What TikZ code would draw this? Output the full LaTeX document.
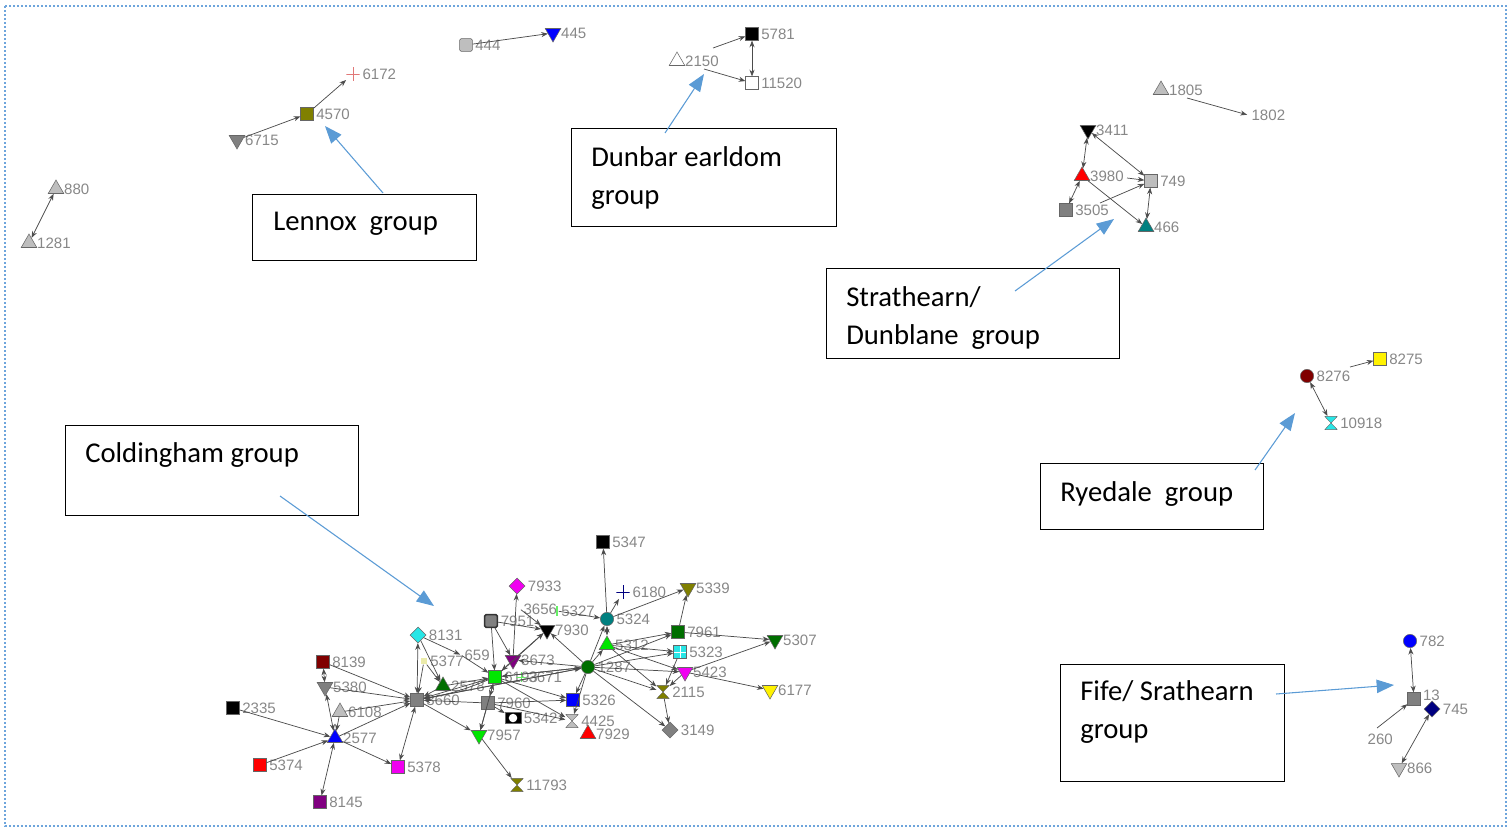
\documentclass[tikz,border=0pt]{standalone}
\usepackage{fontspec}
\usetikzlibrary{shapes.geometric,arrows.meta}
\newfontfamily\labfont{Liberation Sans}
\newfontfamily\callfont{Carlito}
\definecolor{labgrey}{RGB}{135,135,135}
\definecolor{lgrey}{RGB}{190,190,190}
\definecolor{mgrey}{RGB}{128,128,128}
\definecolor{olivec}{RGB}{128,128,0}
\definecolor{tealc}{RGB}{0,128,128}
\definecolor{dred}{RGB}{128,0,0}
\definecolor{navyc}{RGB}{0,0,128}
\definecolor{purp}{RGB}{128,0,128}
\definecolor{dgreen}{RGB}{0,110,0}
\definecolor{lgreen}{RGB}{0,230,0}
\definecolor{cyanc}{RGB}{40,230,230}
\definecolor{magc}{RGB}{240,0,240}
\definecolor{callblue}{RGB}{91,155,213}
\definecolor{dotblue}{RGB}{110,165,220}
\definecolor{pinkred}{RGB}{225,120,120}
\definecolor{paleyel}{RGB}{235,235,170}
\tikzset{
  mk/.style={inner sep=0pt, draw=black!60, line width=0.4pt},
  sq/.style={mk, rectangle, minimum size=9.5pt, fill=#1},
  tu/.style={mk, regular polygon, regular polygon sides=3, minimum size=13.5pt, fill=#1},
  td/.style={tu=#1, shape border rotate=180},
  dm/.style={mk, diamond, minimum size=12pt, fill=#1},
  ci/.style={mk, circle, minimum size=10pt, fill=#1},
  hg/.style={inner sep=0pt, rectangle, minimum width=9.5pt, minimum height=10pt,
    path picture={\fill[#1, draw=black!60, line width=0.3pt]
      (path picture bounding box.north west) -- (path picture bounding box.north east)
      -- (path picture bounding box.south west) -- (path picture bounding box.south east) -- cycle;}},
  pl/.style={inner sep=0pt, rectangle, minimum size=10pt,
    path picture={\draw[#1, line width=0.7pt]
      (path picture bounding box.north) -- (path picture bounding box.south)
      (path picture bounding box.west) -- (path picture bounding box.east);}},
  inv/.style={inner sep=0pt, minimum size=1pt},
  lab/.style={text=labgrey, font=\labfont\fontsize{11.3}{12}\selectfont, inner sep=0.6pt},
  L/.style={label={[lab, label distance=1.2pt]0:#1}},
  ed/.style={draw=black!70, line width=0.55pt, -{Stealth[length=5pt,width=3.8pt]}},
  bi/.style={draw=black!70, line width=0.55pt, {Stealth[length=5pt,width=3.8pt]}-{Stealth[length=5pt,width=3.8pt]}},
  callbox/.style={draw=black, line width=0.9pt, inner sep=0pt, anchor=north west},
  calltext/.style={font=\callfont\fontsize{21.5}{28.5}\selectfont, align=left, anchor=north west, inner sep=0pt},
  callarrow/.style={draw=callblue, line width=0.8pt, -{Triangle[length=13pt,width=10pt]}}
}
\begin{document}
\begin{tikzpicture}[x=0.75pt, y=-0.75pt]
\useasboundingbox (0,0) rectangle (1508,829);
\draw[dotblue, line width=1.2pt, dash pattern=on 1.4pt off 1.6pt] (5,6) rectangle (1506,826);

% ---------- top-left pair
\node[tu=lgrey, L=880] (n880) at (56,189) {};
\node[tu=lgrey, L=1281] (n1281) at (29,243) {};
\draw[bi] (n880) -- (n1281);

% ---------- Lennox
\node[pl=pinkred, L=6172] (n6172) at (353,74) {};
\node[sq=olivec, L=4570] (n4570) at (307,114) {};
\node[td=mgrey, L=6715] (n6715) at (237,140) {};
\draw[ed] (n6715) -- (n4570);
\draw[ed] (n4570) -- (n6172);

% ---------- 444/445
\node[sq=lgrey, rounded corners=1pt, L=444] (n444) at (466,45) {};
\node[td=blue, L=445] (n445) at (553,33) {};
\draw[ed] (n444) -- (n445);

% ---------- Dunbar
\node[tu=white, L=2150] (n2150) at (677,61) {};
\node[sq=black, L=5781] (n5781) at (752,34) {};
\node[sq=white, L=11520] (n11520) at (752,83) {};
\coordinate (d1) at (713,48);
\coordinate (d2) at (704,69);
\draw[ed] (d1) -- (n5781);
\draw[ed] (d2) -- (n11520);
\draw[bi] (n5781) -- (n11520);

% ---------- 1805/1802
\node[tu=lgrey, L=1805] (n1805) at (1161,90) {};
\node[inv, L=1802] (n1802) at (1248,115) {};
\coordinate (e1805) at (1187,98);
\draw[ed] (e1805) -- (n1802);

% ---------- Strathearn
\node[td=black, L=3411] (n3411) at (1088,130) {};
\node[tu=red, L=3980] (n3980) at (1082,176) {};
\node[sq=lgrey, L=749] (n749) at (1151,181) {};
\node[sq=mgrey, L=3505] (n3505) at (1066,210) {};
\node[tu=tealc, L=466] (n466) at (1146,227) {};
\draw[bi] (n3411) -- (n3980);
\draw[bi] (n3411) -- (n749);
\coordinate (e3980) at (1127,178);
\draw[ed] (e3980) -- (n749);
\draw[bi] (n3980) -- (n3505);
\draw[ed] (n3980) -- (n466);
\coordinate (e3505) at (1100,203);
\draw[ed] (e3505) -- (n749);
\draw[bi] (n749) -- (n466);

% ---------- Ryedale
\node[ci=dred, L=8276] (n8276) at (1307,376) {};
\node[sq=yellow, L=8275] (n8275) at (1380,359) {};
\node[hg=cyanc, L=10918] (n10918) at (1331,423) {};
\coordinate (e8276) at (1350,367);
\draw[ed] (e8276) -- (n8275);
\draw[bi] (n8276) -- (n10918);

% ---------- Fife
\node[ci=blue, L=782] (n782) at (1410,641) {};
\node[sq=mgrey] (n13) at (1414,699) {};
\node[lab, anchor=west] (l13) at (1422,695) {13};
\node[dm=navyc, L=745] (n745) at (1432,709) {};
\node[td=lgrey, L=866] (n866) at (1399,768) {};
\node[inv, L=260] (n260) at (1364,739) {};
\draw[bi] (n782) -- (n13);
\coordinate (e260) at (1377,728);
\draw[ed] (e260) -- (n13);
\draw[bi] (n745) -- (n866);

% ---------- Coldingham
\node[dm=cyanc, L=8131] (n8131) at (418,635) {};
\node[sq=dred, L=8139] (n8139) at (323,662) {};
\node[td=mgrey, L=5380] (n5380) at (325,687) {};
\node[tu=lgrey, L=6108] (n6108) at (340,712) {};
\node[sq=black, L=2335] (n2335) at (233,708) {};
\node[tu=blue, L=2577] (n2577) at (335,738) {};
\node[sq=red, L=5374] (n5374) at (260,765) {};
\node[sq=purp, L=8145] (n8145) at (320,802) {};
\node[sq=magc, L=5378] (n5378) at (398,767) {};
\node[sq=mgrey, L=3660] (n3660) at (417,700) {};
\node[inv, minimum size=5pt, fill=paleyel, L=5377] (n5377) at (424,661) {};
\node[inv, L=659] (n659) at (461,655) {};
\node[tu=dgreen, L=2578] (n2578) at (443,686) {};
\node[sq=mgrey, line width=1.2pt, draw=black!80, rounded corners=1pt, L=7951] (n7951) at (491,621) {};
\node[dm=magc, L=7933] (n7933) at (517,586) {};
\node[inv, L=3656] (n3656) at (520,609) {};
\node[inv, minimum width=2pt, minimum height=8pt, fill=lgreen!60, L=5327] (n5327) at (557,611) {};
\node[td=purp, L=3673] (n3673) at (513,660) {};
\node[sq=lgreen, L=6193] (n6193) at (495,677) {};
\node[pl=lgreen!60, minimum size=7pt, L=3671] (n3671) at (521,677) {};
\node[td=black, L=7930] (n7930) at (547,630) {};
\node[ci=tealc, L=5324] (n5324) at (607,619) {};
\node[pl=navyc, L=6180] (n6180) at (623,592) {};
\node[sq=black, L=5347] (n5347) at (603,542) {};
\node[tu=lgreen, L=5312] (n5312) at (607,645) {};
\node[ci=dgreen, L=1287] (n1287) at (588,667) {};
\node[sq=blue, L=5326] (n5326) at (573,700) {};
\node[hg=lgrey, L=4425] (n4425) at (572,721) {};
\node[tu=red, L=7929] (n7929) at (588,734) {};
\node[sq=black, minimum width=12pt, minimum height=8.5pt,
  path picture={\fill[white] (path picture bounding box.center) circle (3.2pt);}, L=5342] (n5342) at (513,718) {};
\node[sq=mgrey, L=7960] (n7960) at (488,703) {};
\node[td=lgreen, L=7957] (n7957) at (479,735) {};
\node[hg=olivec, L=11793] (n11793) at (517,785) {};
\node[td=olivec, L=5339] (n5339) at (688,588) {};
\node[sq=dgreen, L=7961] (n7961) at (678,632) {};
\node[sq=cyanc, path picture={\draw[white, line width=0.5pt]
  (path picture bounding box.north) -- (path picture bounding box.south)
  (path picture bounding box.west) -- (path picture bounding box.east);}, L=5323] (n5323) at (680,652) {};
\node[td=magc, L=5423] (n5423) at (685,672) {};
\node[hg=olivec, L=2115] (n2115) at (663,692) {};
\node[dm=mgrey, L=3149] (n3149) at (670,730) {};
\node[td=dgreen, L=5307] (n5307) at (775,640) {};
\node[td=yellow, L=6177] (n6177) at (770,690) {};

% edges around 2577
\draw[ed] (n2335) -- (n2577);
\draw[ed] (n5374) -- (n2577);
\draw[bi] (n2577) -- (n8145);
\draw[bi] (n8139) -- (n5380);
\draw[bi] (n5380) -- (n2577);
\draw[ed] (n6108) -- (n2577);
\draw[ed] (n2577) -- (n5378);
\draw[ed] (n2577) -- (n3660);
% edges around 3660
\draw[ed] (n8139) -- (n3660);
\draw[ed] (n5380) -- (n3660);
\draw[ed] (n6108) -- (n3660);
\draw[bi] (n3660) -- (n8131);
\draw[bi] (n3660) -- (n5378);
\draw[ed] (n3660) -- (n7957);
\draw[ed] (n6193) -- (n3660);
\draw[ed] (n6193) to[bend left=6] (n3660);
\draw[ed] (n7960) -- (n3660);
\draw[ed] (n1287) -- (n3660);
\draw[ed] (n2578) -- (n3660);
\draw[ed] (n5377) -- (n3660);
\draw[ed] (n8131) -- (n659);
\draw[ed] (n8131) -- (n2578);
\draw[ed] (n5377) -- (n2578);
% edges around 6193 / 7960
\draw[ed] (n7951) -- (n6193);
\draw[ed] (n7951) -- (n3673);
\draw[ed] (n3673) -- (n7933);
\draw[ed] (n3673) -- (n6193);
\draw[bi] (n6193) -- (n7960);
\draw[ed] (n7960) -- (n7957);
\draw[ed] (n7960) -- (n5342);
\draw[ed] (n6193) -- (n7957);
\draw[ed] (n659) -- (n6193);
\draw[ed] (n2578) -- (n6193);
\draw[ed] (n6193) -- (n5326);
\draw[ed] (n7960) -- (n5326);
\draw[ed] (n6193) -- (n4425);
\draw[ed] (n7960) -- (n4425);
\draw[ed] (n7957) -- (n11793);
\draw[ed] (n3673) -- (n7930);
\draw[ed] (n6193) -- (n7930);
\draw[ed] (n7951) -- (n7930);
\draw[ed] (n3656) -- (n7930);
% edges around 1287
\draw[ed] (n1287) -- (n6193);
\draw[ed] (n1287) -- (n3673);
\draw[ed] (n1287) -- (n7930);
\draw[ed] (n1287) -- (n5312);
\draw[ed] (n1287) -- (n5324);
\draw[ed] (n1287) -- (n5326);
\draw[ed] (n1287) -- (n4425);
\draw[ed] (n1287) -- (n3149);
\draw[ed] (n1287) -- (n2115);
\draw[ed] (n1287) -- (n5423);
\draw[ed] (n1287) -- (n5323);
\draw[ed] (n1287) -- (n7961);
\draw[ed] (n6193) -- (n1287);
\draw[ed] (n3660) -- (n1287);
% edges around 5324 / 5312
\draw[ed] (n5324) -- (n5347);
\draw[ed] (n5324) -- (n6180);
\draw[ed] (n5324) -- (n5339);
\draw[bi] (n5324) -- (n5312);
\draw[ed] (n5312) -- (n7961);
\draw[ed] (n5312) -- (n5323);
\draw[ed] (n5312) -- (n5423);
\draw[ed] (n5312) -- (n2115);
\draw[ed] (n5327) -- (n5324);
% right part
\draw[ed] (n7961) -- (n5339);
\draw[ed] (n7961) -- (n5307);
\draw[ed] (n5423) -- (n5307);
\draw[ed] (n5423) -- (n6177);
\draw[ed] (n5423) -- (n2115);
\draw[ed] (n5323) -- (n2115);
\draw[ed] (n2115) -- (n3149);

% ---------- callouts
\node[callbox, minimum width=224*0.75pt, minimum height=66*0.75pt] (bLen) at (252,194) {};
\node[calltext] (tLen) at (273,212) {Lennox\ \ group};
\coordinate (sLen) at (383,193);
\coordinate (pLen) at (325,126);
\draw[callarrow] (sLen) -- (pLen);

\node[callbox, minimum width=265*0.75pt, minimum height=98*0.75pt] (bDun) at (571,128) {};
\node[calltext] (tDun) at (591,146) {Dunbar earldom\\group};
\coordinate (sDun) at (665,133);
\coordinate (pDun) at (704,74);
\draw[callarrow] (sDun) -- (pDun);

\node[callbox, minimum width=293*0.75pt, minimum height=90*0.75pt] (bStr) at (826,268) {};
\node[calltext] (tStr) at (846,286) {Strathearn/\\Dunblane\ \ group};
\coordinate (sStr) at (1015,291);
\coordinate (pStr) at (1114,219);
\draw[callarrow] (sStr) -- (pStr);

\node[callbox, minimum width=223*0.75pt, minimum height=66*0.75pt] (bRye) at (1040,463) {};
\node[calltext] (tRye) at (1060,481) {Ryedale\ \ group};
\coordinate (sRye) at (1255,470);
\coordinate (pRye) at (1295,413);
\draw[callarrow] (sRye) -- (pRye);

\node[callbox, minimum width=224*0.75pt, minimum height=117*0.75pt] (bFif) at (1060,664) {};
\node[calltext] (tFif) at (1080,680) {Fife/ Srathearn\\group};
\coordinate (sFif) at (1276,694);
\coordinate (pFif) at (1394,685);
\draw[callarrow] (sFif) -- (pFif);

\node[callbox, minimum width=293*0.75pt, minimum height=90*0.75pt] (bCol) at (65,425) {};
\node[calltext] (tCol) at (85,442) {Coldingham group};
\coordinate (sCol) at (280,496);
\coordinate (pCol) at (434,606);
\draw[callarrow] (sCol) -- (pCol);
\end{tikzpicture}
\end{document}
